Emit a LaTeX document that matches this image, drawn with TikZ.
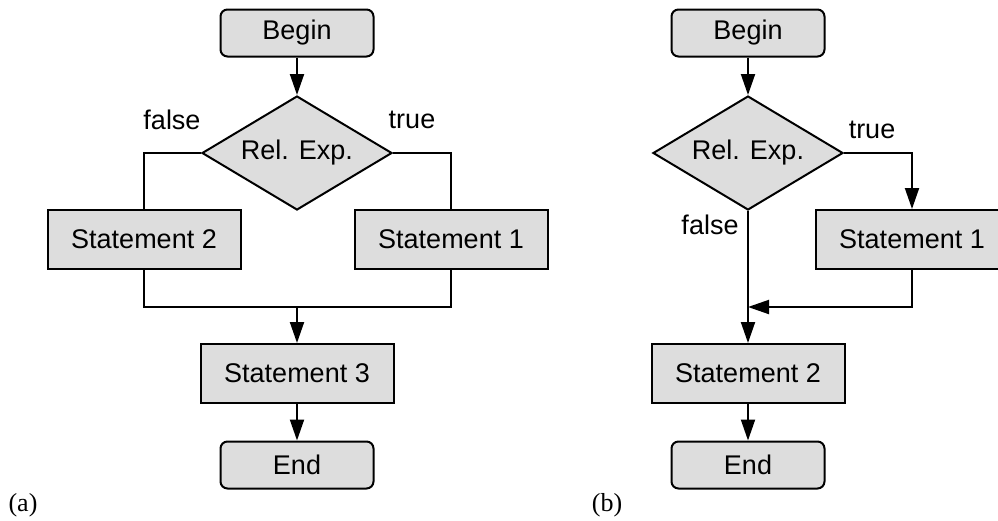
\documentclass[tikz,border=0pt]{standalone}
\usepackage{fontspec}
\setmainfont{Liberation Sans}
\newfontfamily\capfont{Liberation Serif}
\usetikzlibrary{shapes.geometric,arrows.meta}
\definecolor{boxgray}{HTML}{DDDDDD}
\begin{document}
\begin{tikzpicture}[x=1pt,y=-1pt,
 every node/.style={font=\fontsize{27}{32}\selectfont},
 term/.style={draw,fill=boxgray,rounded corners=7pt,minimum width=153pt,minimum height=47pt,inner sep=0pt,line width=2pt},
 stmt/.style={draw,fill=boxgray,minimum width=193pt,minimum height=59pt,inner sep=0pt,line width=2pt},
 dec/.style={draw,fill=boxgray,diamond,aspect=1.667,minimum width=190pt,minimum height=114pt,inner sep=0pt,line width=2pt},
 flow/.style={line width=2pt},
 arr/.style={flow,-{Triangle[length=21pt,width=14pt]}},
 lbl/.style={inner sep=0pt},
 figcap/.style={inner sep=0pt,font=\capfont\fontsize{26}{31}\selectfont}]
\useasboundingbox (0,0) rectangle (998,520);
\clip (0,0) rectangle (998,520);
% (a)
\node[term] (bA) at (297,33) {Begin};
\node[dec] (dA) at (297,153) {Rel. Exp.};
\node[stmt] (s2A) at (144,239.5) {Statement 2};
\node[stmt] (s1A) at (451,239.5) {Statement 1};
\node[stmt] (s3A) at (297,373.5) {Statement 3};
\node[term] (eA) at (297,465) {End};
\coordinate (mA) at (297,307);
\draw[arr] (bA) -- (dA);
\draw[flow] (dA.west) -| (s2A.north);
\draw[flow] (dA.east) -| (s1A.north);
\draw[flow] (s2A.south) |- (mA) -| (s1A.south);
\draw[arr] (mA) -- (s3A);
\draw[arr] (s3A) -- (eA);
\node[lbl] (fA) at (172,120) {false};
\node[lbl] (tA) at (412,120) {true};
\node[figcap] (capA) at (23,505) {(a)};
% (b)
\node[term] (bB) at (748,33) {Begin};
\node[dec] (dB) at (748,153) {Rel. Exp.};
\node[stmt] (s1B) at (912,239.5) {Statement 1};
\node[stmt] (s2B) at (748,373.5) {Statement 2};
\node[term] (eB) at (748,465) {End};
\coordinate (mB) at (748,307);
\draw[arr] (bB) -- (dB);
\draw[arr] (dB.east) -| (s1B.north);
\draw[arr] (dB.south) -- (s2B.north);
\draw[arr] (s1B.south) |- (mB);
\draw[arr] (s2B) -- (eB);
\node[lbl] (tB) at (872,130) {true};
\node[lbl] (fB) at (710,225) {false};
\node[figcap] (capB) at (607,505) {(b)};
\end{tikzpicture}
\end{document}
